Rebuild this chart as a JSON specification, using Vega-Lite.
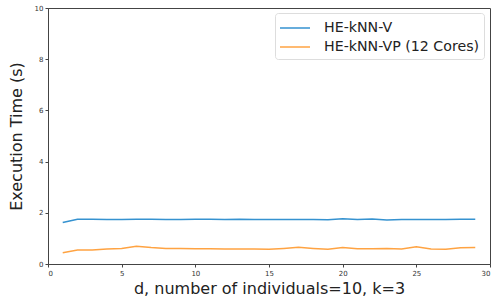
{
  "$schema": "https://vega.github.io/schema/vega-lite/v6.json",
  "width": 442,
  "height": 256,
  "autosize": {"type": "none"},
  "padding": {"left": 48, "top": 8, "right": 14, "bottom": 38},
  "config": {
    "font": "DejaVu Sans",
    "view": {"stroke": "#444444", "strokeWidth": 1},
    "axis": {"grid": false, "domainColor": "#444444", "tickColor": "#444444", "labelColor": "#333333", "labelFontSize": 7, "tickSize": 3, "labelPadding": 2, "titleFontWeight": "normal", "titleColor": "#222222", "titleFontSize": 16}
  },
  "data": {"values": [
    {"d":1,"t":1.62,"s":"HE-kNN-V"},{"d":2,"t":1.75,"s":"HE-kNN-V"},{"d":3,"t":1.75,"s":"HE-kNN-V"},{"d":4,"t":1.74,"s":"HE-kNN-V"},{"d":5,"t":1.74,"s":"HE-kNN-V"},{"d":6,"t":1.75,"s":"HE-kNN-V"},{"d":7,"t":1.75,"s":"HE-kNN-V"},{"d":8,"t":1.74,"s":"HE-kNN-V"},{"d":9,"t":1.74,"s":"HE-kNN-V"},{"d":10,"t":1.75,"s":"HE-kNN-V"},{"d":11,"t":1.75,"s":"HE-kNN-V"},{"d":12,"t":1.74,"s":"HE-kNN-V"},{"d":13,"t":1.75,"s":"HE-kNN-V"},{"d":14,"t":1.74,"s":"HE-kNN-V"},{"d":15,"t":1.74,"s":"HE-kNN-V"},{"d":16,"t":1.74,"s":"HE-kNN-V"},{"d":17,"t":1.74,"s":"HE-kNN-V"},{"d":18,"t":1.74,"s":"HE-kNN-V"},{"d":19,"t":1.73,"s":"HE-kNN-V"},{"d":20,"t":1.77,"s":"HE-kNN-V"},{"d":21,"t":1.74,"s":"HE-kNN-V"},{"d":22,"t":1.76,"s":"HE-kNN-V"},{"d":23,"t":1.72,"s":"HE-kNN-V"},{"d":24,"t":1.74,"s":"HE-kNN-V"},{"d":25,"t":1.74,"s":"HE-kNN-V"},{"d":26,"t":1.74,"s":"HE-kNN-V"},{"d":27,"t":1.74,"s":"HE-kNN-V"},{"d":28,"t":1.75,"s":"HE-kNN-V"},{"d":29,"t":1.75,"s":"HE-kNN-V"},
    {"d":1,"t":0.44,"s":"HE-kNN-VP (12 Cores)"},{"d":2,"t":0.55,"s":"HE-kNN-VP (12 Cores)"},{"d":3,"t":0.55,"s":"HE-kNN-VP (12 Cores)"},{"d":4,"t":0.59,"s":"HE-kNN-VP (12 Cores)"},{"d":5,"t":0.61,"s":"HE-kNN-VP (12 Cores)"},{"d":6,"t":0.69,"s":"HE-kNN-VP (12 Cores)"},{"d":7,"t":0.64,"s":"HE-kNN-VP (12 Cores)"},{"d":8,"t":0.61,"s":"HE-kNN-VP (12 Cores)"},{"d":9,"t":0.61,"s":"HE-kNN-VP (12 Cores)"},{"d":10,"t":0.6,"s":"HE-kNN-VP (12 Cores)"},{"d":11,"t":0.6,"s":"HE-kNN-VP (12 Cores)"},{"d":12,"t":0.59,"s":"HE-kNN-VP (12 Cores)"},{"d":13,"t":0.59,"s":"HE-kNN-VP (12 Cores)"},{"d":14,"t":0.59,"s":"HE-kNN-VP (12 Cores)"},{"d":15,"t":0.58,"s":"HE-kNN-VP (12 Cores)"},{"d":16,"t":0.61,"s":"HE-kNN-VP (12 Cores)"},{"d":17,"t":0.65,"s":"HE-kNN-VP (12 Cores)"},{"d":18,"t":0.61,"s":"HE-kNN-VP (12 Cores)"},{"d":19,"t":0.58,"s":"HE-kNN-VP (12 Cores)"},{"d":20,"t":0.64,"s":"HE-kNN-VP (12 Cores)"},{"d":21,"t":0.6,"s":"HE-kNN-VP (12 Cores)"},{"d":22,"t":0.6,"s":"HE-kNN-VP (12 Cores)"},{"d":23,"t":0.61,"s":"HE-kNN-VP (12 Cores)"},{"d":24,"t":0.59,"s":"HE-kNN-VP (12 Cores)"},{"d":25,"t":0.67,"s":"HE-kNN-VP (12 Cores)"},{"d":26,"t":0.59,"s":"HE-kNN-VP (12 Cores)"},{"d":27,"t":0.58,"s":"HE-kNN-VP (12 Cores)"},{"d":28,"t":0.63,"s":"HE-kNN-VP (12 Cores)"},{"d":29,"t":0.64,"s":"HE-kNN-VP (12 Cores)"}
  ]},
  "mark": {"type": "line", "strokeWidth": 1.5},
  "encoding": {
    "x": {"field": "d", "type": "quantitative", "scale": {"domain": [0, 30], "nice": false}, "axis": {"values": [0,5,10,15,20,25,30], "title": "d, number of individuals=10, k=3", "titlePadding": 4}},
    "y": {"field": "t", "type": "quantitative", "scale": {"domain": [0, 10], "nice": false}, "axis": {"values": [0,2,4,6,8,10], "title": "Execution Time (s)", "titlePadding": 10}},
    "color": {"field": "s", "type": "nominal", "scale": {"domain": ["HE-kNN-V", "HE-kNN-VP (12 Cores)"], "range": ["#3592d0", "#ffa342"]},
      "legend": {"title": null, "orient": "none", "legendX": 227, "legendY": 5, "symbolType": "M-1,0H2", "symbolSize": 400, "symbolStrokeWidth": 1.5, "labelFontSize": 14.2, "labelLimit": 0, "labelColor": "#222222", "rowPadding": 0, "labelOffset": 23, "fillColor": "white", "strokeColor": "#dddddd", "cornerRadius": 3, "padding": 4}}
  }
}
